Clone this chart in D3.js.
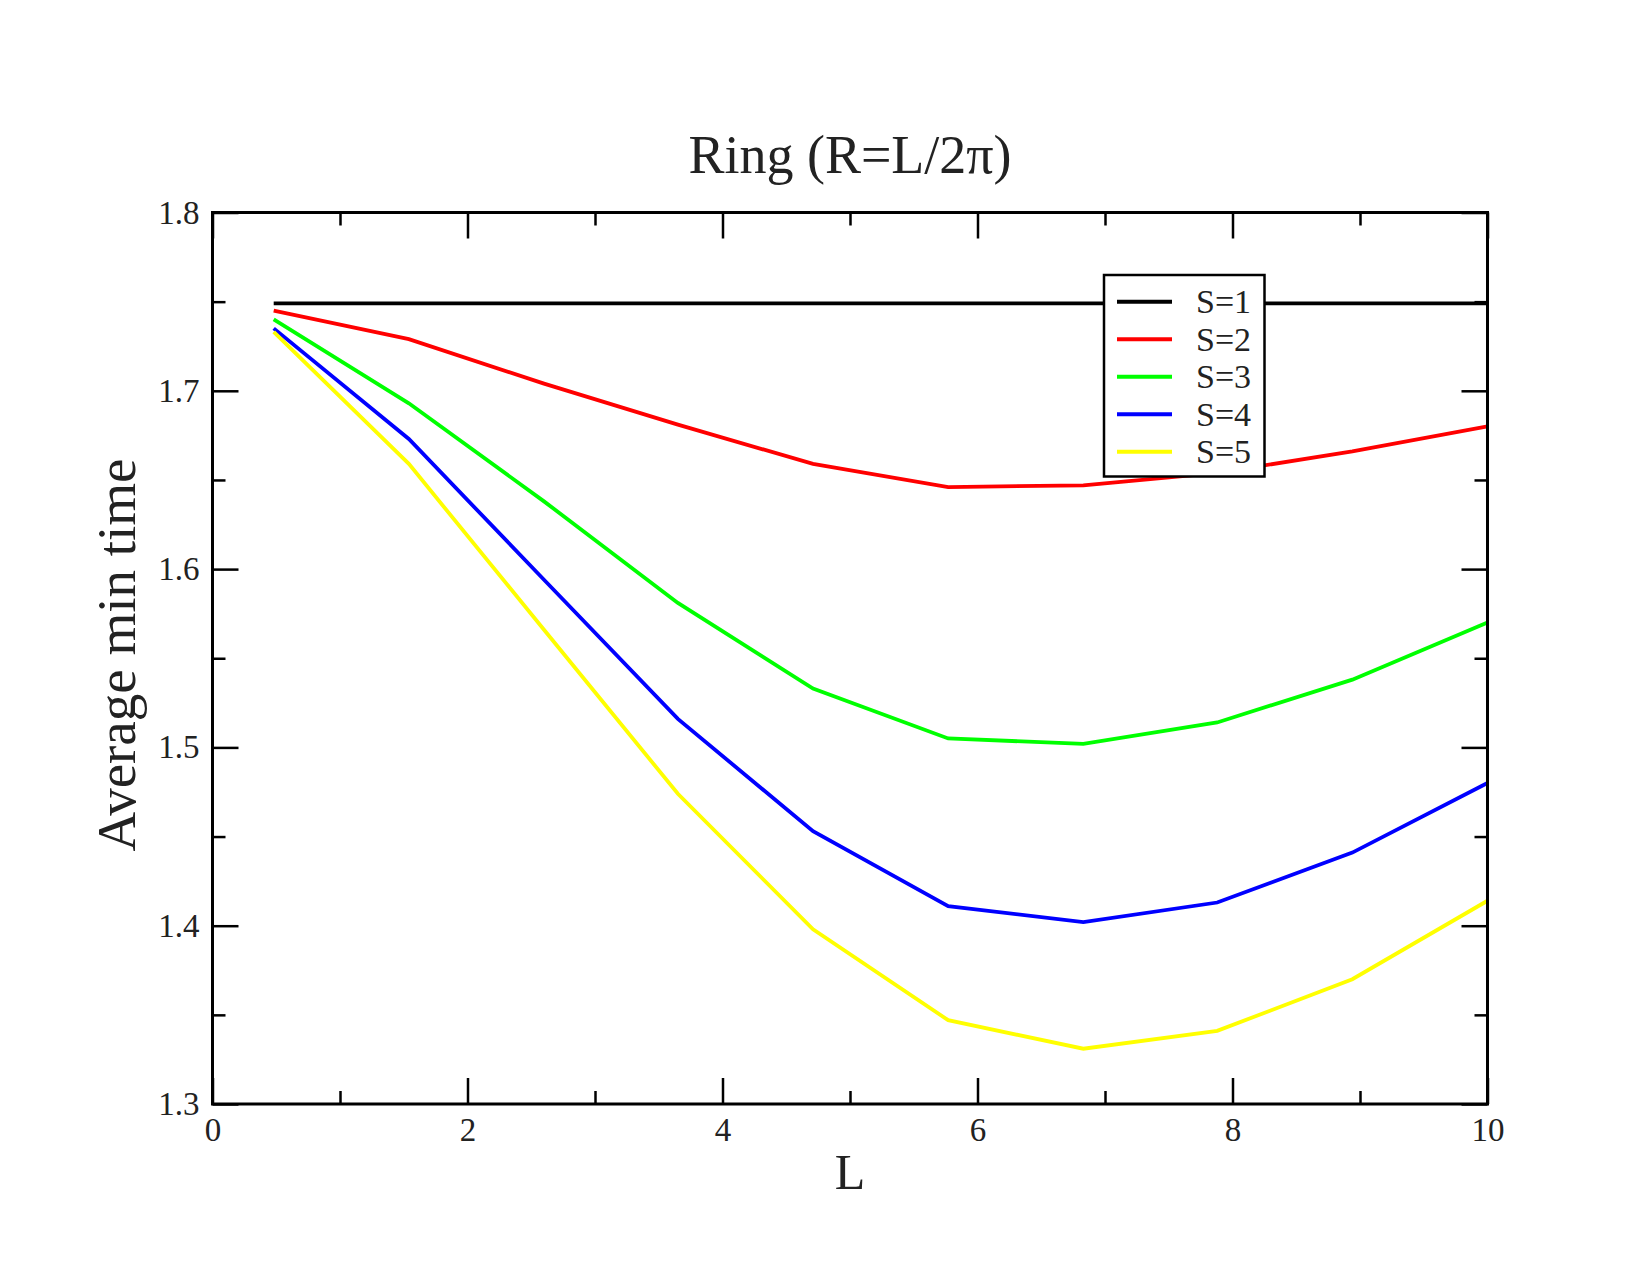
<!DOCTYPE html>
<html>
<head>
<meta charset="utf-8">
<script src="https://cdn.jsdelivr.net/npm/d3@7"></script>
<style>
  body { margin: 0; background: #fff; }
  svg { font-family: "Liberation Serif", "Times New Roman", serif; }
  .tick text { fill: #222; }
</style>
</head>
<body>
<div id="chart"></div>
<script>
// data
var L = [0.48, 1.54, 2.60, 3.65, 4.71, 5.77, 6.83, 7.88, 8.94, 10.0];
var s1 = [1.749, 1.749, 1.749, 1.749, 1.749, 1.749, 1.749, 1.749, 1.749, 1.749];
var s2 = [1.745, 1.729, 1.704, 1.681, 1.659, 1.646, 1.647, 1.654, 1.666, 1.680];
var s3 = [1.740, 1.693, 1.638, 1.581, 1.533, 1.505, 1.502, 1.514, 1.538, 1.570];
var s4 = [1.735, 1.673, 1.594, 1.516, 1.453, 1.411, 1.402, 1.413, 1.441, 1.480];
var s5 = [1.733, 1.659, 1.566, 1.474, 1.398, 1.347, 1.331, 1.341, 1.370, 1.414];
var seriesNames = ["S=1", "S=2", "S=3", "S=4", "S=5"];
var seriesColors = ["#000000", "#ff0000", "#00ff00", "#0000ff", "#ffff00"];
var xMajor = [0, 2, 4, 6, 8, 10];
var xMinor = [1, 3, 5, 7, 9];
var yMajor = [1.3, 1.4, 1.5, 1.6, 1.7, 1.8];
var yMinor = [1.35, 1.45, 1.55, 1.65, 1.75];

function makeChart() {
  var svgWidth = 1650;
  var svgHeight = 1275;

  var left = 212.5, right = 1487.5, top = 212.5, bottom = 1104;

  var svg = d3.select("#chart").append("svg")
    .attr("width", svgWidth)
    .attr("height", svgHeight);

  var x = d3.scaleLinear().domain([0, 10]).range([left, right]);
  var y = d3.scaleLinear().domain([1.3, 1.8]).range([bottom, top]);

  var series = [s1, s2, s3, s4, s5];

  // lines
  var line = d3.line()
    .x(function(d, i) { return x(L[i]); })
    .y(function(d) { return y(d); });

  svg.append("g").selectAll("path")
    .data(series)
    .enter().append("path")
    .attr("d", line)
    .attr("fill", "none")
    .attr("stroke", function(d, i) { return seriesColors[i]; })
    .attr("stroke-width", 3.8);

  // axes (ticks inward on all sides)
  function addAxis(axis, tx, ty, hasLabels) {
    var g = svg.append("g")
      .attr("transform", "translate(" + tx + "," + ty + ")")
      .call(axis)
      .attr("font-family", "Liberation Serif, Times New Roman, serif");
    g.select(".domain").remove();
    g.selectAll(".tick line").attr("stroke", "#000").attr("stroke-width", 2.5);
    if (hasLabels) g.selectAll(".tick text").style("font-size", "33px");
    return g;
  }

  addAxis(d3.axisBottom(x).tickValues(xMajor).tickSize(-26).tickPadding(14)
    .tickFormat(d3.format("d")), 0, bottom, true);
  addAxis(d3.axisBottom(x).tickValues(xMinor).tickSize(-13).tickFormat(""), 0, bottom, false);
  addAxis(d3.axisTop(x).tickValues(xMajor).tickSize(-26).tickFormat(""), 0, top, false);
  addAxis(d3.axisTop(x).tickValues(xMinor).tickSize(-13).tickFormat(""), 0, top, false);

  addAxis(d3.axisLeft(y).tickValues(yMajor).tickSize(-26).tickPadding(13)
    .tickFormat(d3.format(".1f")), left, 0, true);
  addAxis(d3.axisLeft(y).tickValues(yMinor).tickSize(-13).tickFormat(""), left, 0, false);
  addAxis(d3.axisRight(y).tickValues(yMajor).tickSize(-26).tickFormat(""), right, 0, false);
  addAxis(d3.axisRight(y).tickValues(yMinor).tickSize(-13).tickFormat(""), right, 0, false);

  // frame
  svg.append("rect")
    .attr("x", left).attr("y", top)
    .attr("width", right - left).attr("height", bottom - top)
    .attr("fill", "none").attr("stroke", "#000").attr("stroke-width", 3);

  // legend
  var legend = svg.append("g");
  legend.append("rect")
    .attr("x", 1104).attr("y", 275)
    .attr("width", 160.5).attr("height", 201.5)
    .attr("fill", "#fff").attr("stroke", "#000").attr("stroke-width", 2.5);

  var rows = legend.selectAll("g.row")
    .data(seriesNames)
    .enter().append("g")
    .attr("class", "row")
    .attr("transform", function(d, i) { return "translate(0," + (301.7 + i * 37.5) + ")"; });
  rows.append("line")
    .attr("x1", 1117).attr("x2", 1172)
    .attr("stroke", function(d, i) { return seriesColors[i]; })
    .attr("stroke-width", 4);
  rows.append("text")
    .attr("x", 1196).attr("y", 11.6)
    .style("font-size", "34px")
    .attr("fill", "#222")
    .text(function(d) { return d; });

  // title and axis labels
  svg.append("text")
    .attr("x", 850).attr("y", 173)
    .attr("text-anchor", "middle")
    .style("font-size", "54px")
    .attr("fill", "#222")
    .text("Ring (R=L/2\u03c0)");

  svg.append("text")
    .attr("x", 850).attr("y", 1189)
    .attr("text-anchor", "middle")
    .style("font-size", "50px")
    .attr("fill", "#222")
    .text("L");

  svg.append("text")
    .attr("transform", "translate(135,655) rotate(-90)")
    .attr("text-anchor", "middle")
    .style("font-size", "55px")
    .attr("fill", "#222")
    .text("Average min time");
}

makeChart();
</script>
</body>
</html>
